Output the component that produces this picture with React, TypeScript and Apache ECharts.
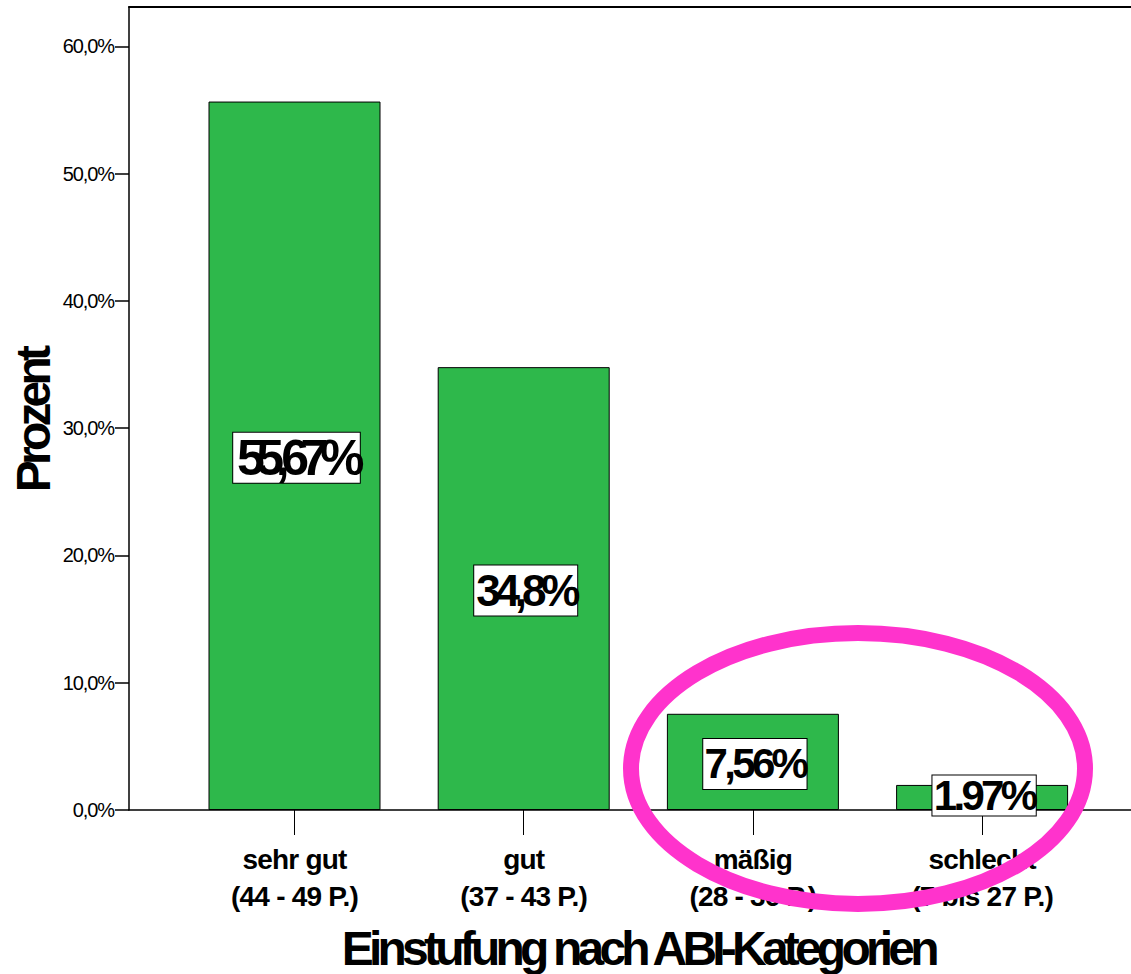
import React, { useEffect, useRef } from "react";
import * as echarts from "echarts";

// Categories of the ABI classification and the share of each one (in %)
const categories = [
  "sehr gut\n(44 - 49 P.)",
  "gut\n(37 - 43 P.)",
  "mäßig\n(28 - 36 P.)",
  "schlecht\n(7 bis 27 P.)",
];
const percentValues = [55.67, 34.8, 7.56, 1.97];
const valueLabels = ["55,67%", "34,8%", "7,56%", "1.97%"];

// Y axis ticks and their printed labels
const yTicks = [0, 10, 20, 30, 40, 50, 60];
const yTickLabels = ["0,0%", "10,0%", "20,0%", "30,0%", "40,0%", "50,0%", "60,0%"];

// Text styling
const FONT = "'Liberation Sans', Arial, Helvetica, sans-serif";
const BAR_GREEN = "#2EB84B";
const Y_MAX = 63.1;

// Styling of each value box: font size, box height and vertical nudge
const VALUE_FONT_SIZES = [50, 44, 42, 42];
const VALUE_BOX_HEIGHTS = [50, 50, 50, 40];
const VALUE_NUDGE_Y = [2, 2, 2, -2];
const SPACING_BY_SIZE: Record<number, number> = { 50: -8.4, 44: -5.2, 42: -3.7 };

function measure(text: string, font: string): number {
  const ctx = document.createElement("canvas").getContext("2d");
  if (!ctx) return text.length * 20;
  ctx.font = font;
  return ctx.measureText(text).width;
}

// Width of a value box so that it hugs the tightly spaced text
function valueBoxWidth(text: string, size: number): number {
  const natural = measure(text, `bold ${size}px ${FONT}`);
  return natural + SPACING_BY_SIZE[size] * (text.length - 1) - 1;
}

const chartCss = `
#abi-chart text[style*="50px"] { letter-spacing: ${SPACING_BY_SIZE[50]}px; }
#abi-chart text[style*="44px"] { letter-spacing: ${SPACING_BY_SIZE[44]}px; }
#abi-chart text[style*="42px"] { letter-spacing: ${SPACING_BY_SIZE[42]}px; }
#abi-chart text[style*="48px"] { letter-spacing: -4.8px; }
#abi-chart text[style*="28px"] { letter-spacing: -0.8px; }
#abi-chart text[style*="20px"] { letter-spacing: -1.1px; }
`;

export default function App() {
  const ref = useRef<HTMLDivElement>(null);

  useEffect(() => {
    if (!ref.current) return;
    const chart = echarts.init(ref.current, null, { renderer: "svg" });

    const gridTop = 7;
    const gridBottom = 164;

    const option: any = {
      animation: false,
      backgroundColor: "#ffffff",
      grid: [
        // frame grid: carries the y axis, the base line and the top line
        { left: 129, right: 0, top: gridTop, bottom: gridBottom, outerBoundsMode: "none" },
        // bar grid: four category bands
        { left: 179.9, width: 916.8, top: gridTop, bottom: gridBottom, outerBoundsMode: "none" },
      ],
      xAxis: [
        {
          gridIndex: 0,
          type: "value",
          position: "bottom",
          min: 0,
          max: 1,
          axisLine: { show: true, onZero: false, lineStyle: { color: "#000", width: 1.5 } },
          axisTick: { show: false },
          axisLabel: { show: false },
          splitLine: { show: false },
        },
        {
          gridIndex: 0,
          type: "value",
          position: "top",
          min: 0,
          max: 1,
          axisLine: { show: true, onZero: false, lineStyle: { color: "#000", width: 2 } },
          axisTick: { show: false },
          axisLabel: { show: false },
          splitLine: { show: false },
        },
        {
          gridIndex: 1,
          type: "category",
          data: categories,
          axisLine: { show: false },
          axisTick: {
            show: true,
            alignWithLabel: true,
            length: 25,
            lineStyle: { color: "#000", width: 1 },
          },
          axisLabel: {
            interval: 0,
            margin: 31,
            color: "#000",
            fontFamily: FONT,
            fontWeight: "bold",
            fontSize: 28,
            lineHeight: 37,
          },
          name: "Einstufung nach ABI-Kategorien",
          nameLocation: "middle",
          nameGap: 114,
          nameTextStyle: {
            color: "#000",
            fontFamily: FONT,
            fontWeight: "bold",
            fontSize: 48,
          },
        },
      ],
      yAxis: [
        {
          gridIndex: 0,
          type: "value",
          min: 0,
          max: Y_MAX,
          interval: 10,
          axisLine: { show: true, lineStyle: { color: "#000", width: 1.5 } },
          axisTick: {
            show: true,
            length: 14,
            customValues: yTicks,
            lineStyle: { color: "#000", width: 1.5 },
          },
          axisLabel: {
            customValues: yTicks,
            margin: 15,
            color: "#000",
            fontFamily: FONT,
            fontSize: 20,
            formatter: (v: number) => {
              const i = yTicks.indexOf(Math.round(v));
              return i >= 0 ? yTickLabels[i] : "";
            },
          },
          splitLine: { show: false },
        },
        {
          gridIndex: 1,
          type: "value",
          min: 0,
          max: Y_MAX,
          show: false,
        },
      ],
      series: [
        {
          type: "bar",
          xAxisIndex: 2,
          yAxisIndex: 1,
          barWidth: 172,
          itemStyle: { color: BAR_GREEN, borderColor: "#000", borderWidth: 1 },
          label: {
            show: true,
            position: "inside",
            formatter: (p: any) => valueLabels[p.dataIndex],
            color: "#000",
            fontFamily: FONT,
            fontWeight: "bold",
            backgroundColor: "#fff",
            borderColor: "#000",
            borderWidth: 1,
            padding: [0, 0, 0, 0],
            overflow: "none",
          },
          data: percentValues.map((v, i) => ({
            value: v,
            label: {
              fontSize: VALUE_FONT_SIZES[i],
              lineHeight: VALUE_BOX_HEIGHTS[i],
              offset: [2, VALUE_NUDGE_Y[i]],
              width: valueBoxWidth(valueLabels[i], VALUE_FONT_SIZES[i]),
            },
          })),
          z: 3,
        },
      ],
      graphic: [
        // vertical axis title
        {
          type: "text",
          x: 33,
          y: 421,
          rotation: Math.PI / 2,
          style: {
            text: "Prozent",
            fill: "#000",
            font: `bold 48px ${FONT}`,
            textAlign: "center",
            textVerticalAlign: "middle",
          },
        },
        // highlight around the two weakest categories
        {
          type: "ellipse",
          z: 100,
          silent: true,
          shape: { cx: 858, cy: 768.5, rx: 227, ry: 135.5 },
          style: { fill: "none", stroke: "#FF33CC", lineWidth: 16 },
        },
      ],
    };

    chart.setOption(option);
    return () => chart.dispose();
  }, []);

  return (
    <>
      <style>{chartCss}</style>
      <div
        id="abi-chart"
        ref={ref}
        style={{ position: "absolute", left: 0, top: 0, width: 1131, height: 974 }}
      />
    </>
  );
}
